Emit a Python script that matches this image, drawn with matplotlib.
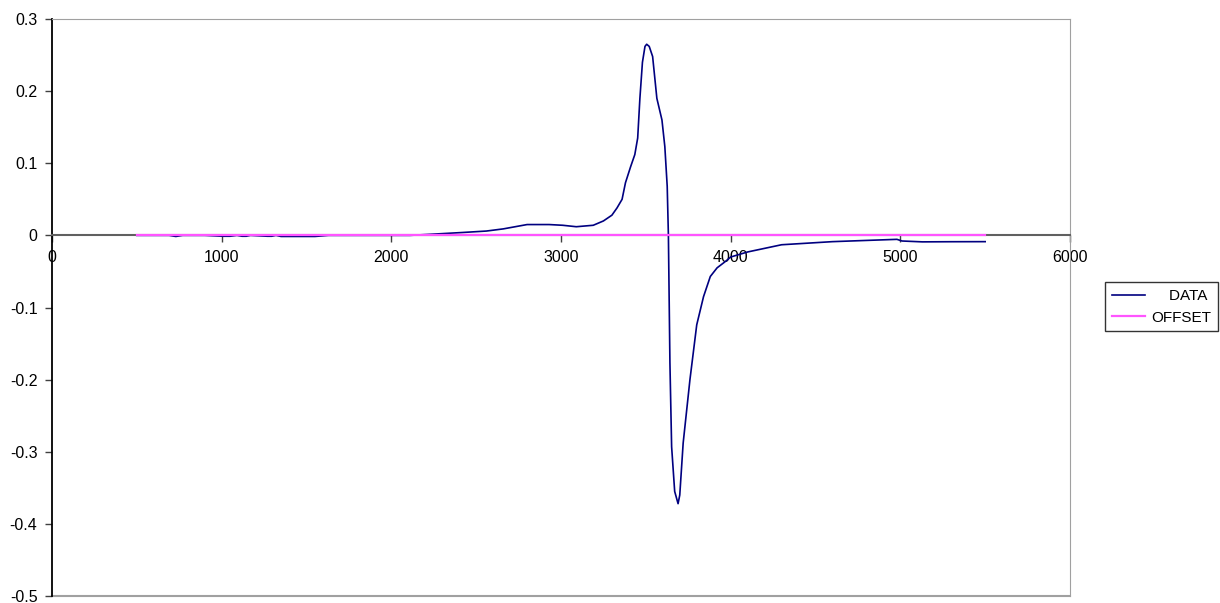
import matplotlib.pyplot as plt
import numpy as np

plt.rcParams['font.family'] = ['Liberation Sans', 'DejaVu Sans']
plt.rcParams['font.size'] = 11

# measured signal
data_x = [500, 600, 690, 730, 770, 900, 1010, 1050, 1090, 1120, 1145, 1170,
          1270, 1295, 1320, 1350, 1450, 1550, 1630, 1800, 2000, 2110, 2230,
          2420, 2560, 2660, 2730, 2800, 2930, 3010, 3090, 3190, 3250, 3300,
          3330, 3360, 3380, 3410, 3435, 3452, 3465, 3480, 3495, 3505, 3520,
          3540, 3565, 3595, 3612, 3626, 3633, 3642, 3652, 3670, 3690, 3700,
          3720, 3760, 3800, 3840, 3880, 3920, 3970, 4000, 4100, 4300, 4600,
          4800, 4980, 5010, 5130, 5300, 5500]
data_y = [0.0, 0.0, 0.0, -0.0015, 0.0, 0.0, -0.0012, -0.0012, 0.0, -0.0012,
          -0.0012, 0.0, -0.0012, -0.0012, 0.0, -0.0015, -0.0015, -0.0015, 0.0,
          0.0, 0.0, 0.0, 0.0015, 0.004, 0.006, 0.009, 0.012, 0.015, 0.015,
          0.014, 0.012, 0.014, 0.02, 0.028, 0.038, 0.05, 0.073, 0.095, 0.112,
          0.135, 0.19, 0.24, 0.262, 0.265, 0.262, 0.248, 0.19, 0.16, 0.123,
          0.068, 0.0, -0.177, -0.293, -0.355, -0.372, -0.36, -0.288, -0.2,
          -0.124, -0.085, -0.057, -0.045, -0.036, -0.03, -0.023, -0.013,
          -0.0087, -0.007, -0.0055, -0.0078, -0.009, -0.0088, -0.0087]

# flat reference
offset_x = [500, 5500]
offset_y = [0.0, 0.0]

fig = plt.figure(figsize=(12.2, 6.03), dpi=100)
ax = fig.add_axes([52 / 1220, 1 - 596 / 603, (1070 - 52) / 1220, 577 / 603])

ax.plot(data_x, data_y, color='#000080', lw=1.2, label='DATA', zorder=3)
ax.plot(offset_x, offset_y, color='#ff55ff', lw=1.6, label='OFFSET', zorder=4)

ax.set_xlim(0, 6000)
ax.set_ylim(-0.5, 0.3)
ax.set_xticks(np.arange(0, 6001, 1000))
ax.set_yticks(np.round(np.arange(-0.5, 0.31, 0.1), 1))
ax.set_yticklabels(['-0.5', '-0.4', '-0.3', '-0.2', '-0.1', '0', '0.1', '0.2', '0.3'])

# axis through zero, grey frame around the plot area
ax.spines['bottom'].set_position(('data', 0))
ax.spines['bottom'].set_color('#606060')
ax.spines['bottom'].set_linewidth(1.5)
ax.spines['left'].set_color('black')
ax.spines['left'].set_linewidth(1.3)
ax.spines['top'].set_color('#a0a0a0')
ax.spines['right'].set_color('#a0a0a0')
ax.axhline(-0.5, color='#a0a0a0', lw=1.5, clip_on=False, zorder=1)

ax.tick_params(axis='x', direction='out', length=5, width=1, color='#404040',
               pad=5.5, labelsize=11.5)
ax.tick_params(axis='y', direction='out', length=5, width=1, color='#404040',
               pad=5.5, labelsize=11.5)

handles, labels = ax.get_legend_handles_labels()
leg = fig.legend(handles, ['    DATA', 'OFFSET'], loc='upper left',
                 bbox_to_anchor=(1105 / 1220, 1 - 282 / 603),
                 frameon=True, fancybox=False, handlelength=2.2,
                 handletextpad=0.4, borderpad=0.45, labelspacing=0.5,
                 borderaxespad=0, fontsize=11)
leg.get_frame().set_edgecolor('black')
leg.get_frame().set_linewidth(1)

fig.savefig('out.png', dpi=100)
